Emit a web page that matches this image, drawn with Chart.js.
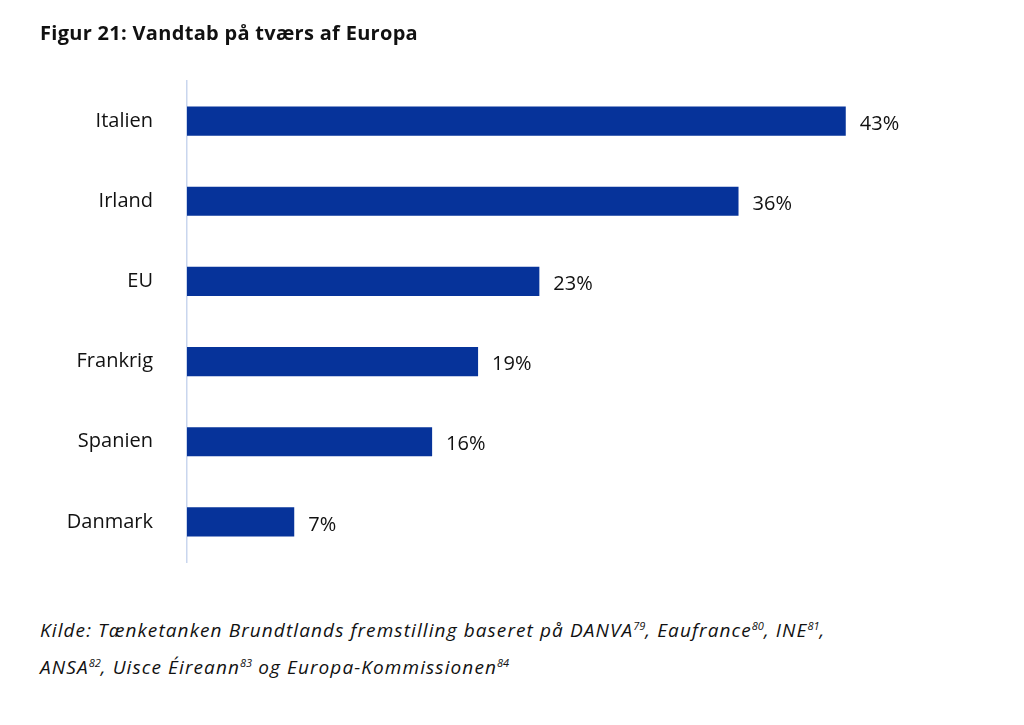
<!DOCTYPE html>
<html><head><meta charset="utf-8">
<script src="https://cdn.jsdelivr.net/npm/chart.js@4"></script>
<style>
body{margin:0;background:#fff;width:1024px;height:725px;position:relative;overflow:hidden;font-family:"Open Sans",sans-serif;color:#111}
#t{position:absolute;left:40px;top:19px;font-size:20px;font-weight:bold;letter-spacing:0.3px}
#w{position:absolute;left:0;top:0;width:1000px;height:600px}
#f{position:absolute;left:40px;top:612px;font-size:19px;font-style:italic;line-height:37px;letter-spacing:1.1px;white-space:nowrap}
sup{font-size:11px;vertical-align:7px;line-height:0;letter-spacing:0}
</style></head><body>
<div id="w"><canvas id="c"></canvas></div>
<div id="t">Figur 21: Vandtab på tværs af Europa</div>
<div id="f">Kilde: Tænketanken Brundtlands fremstilling baseret på DANVA<sup>79</sup>, Eaufrance<sup>80</sup>, INE<sup>81</sup>,<br>ANSA<sup>82</sup>, Uisce Éireann<sup>83</sup> og Europa-Kommissionen<sup>84</sup></div>
<script>
const categories=["Italien","Irland","EU","Frankrig","Spanien","Danmark"];
const values=[43,36,23,19,16,7];
const labelPlugin={id:'lbl',afterDatasetsDraw(ch){const c=ch.ctx;const m=ch.getDatasetMeta(0);c.save();c.font='20px "Open Sans", sans-serif';c.fillStyle='#111';c.textBaseline='middle';m.data.forEach((b,i)=>{c.fillText(values[i]+'%',b.x+14,b.y+3);});c.restore();}};
new Chart(document.getElementById('c'),{type:'bar',data:{labels:categories,datasets:[{data:values,backgroundColor:'#06339a',categoryPercentage:1,barPercentage:0.364}]},
options:{indexAxis:'y',responsive:true,maintainAspectRatio:false,animation:false,
layout:{padding:{top:81,bottom:12,right:47,left:0}},
plugins:{legend:{display:false},tooltip:{enabled:false}},
scales:{x:{display:false,min:0,max:50},
y:{afterFit(s){s.width=187;},grid:{display:false},border:{display:true,color:'#c9d6ee',width:1.5},ticks:{color:'#111',font:{size:20,family:'"Open Sans", sans-serif'},padding:26}}}},
plugins:[labelPlugin]});
</script></body></html>
